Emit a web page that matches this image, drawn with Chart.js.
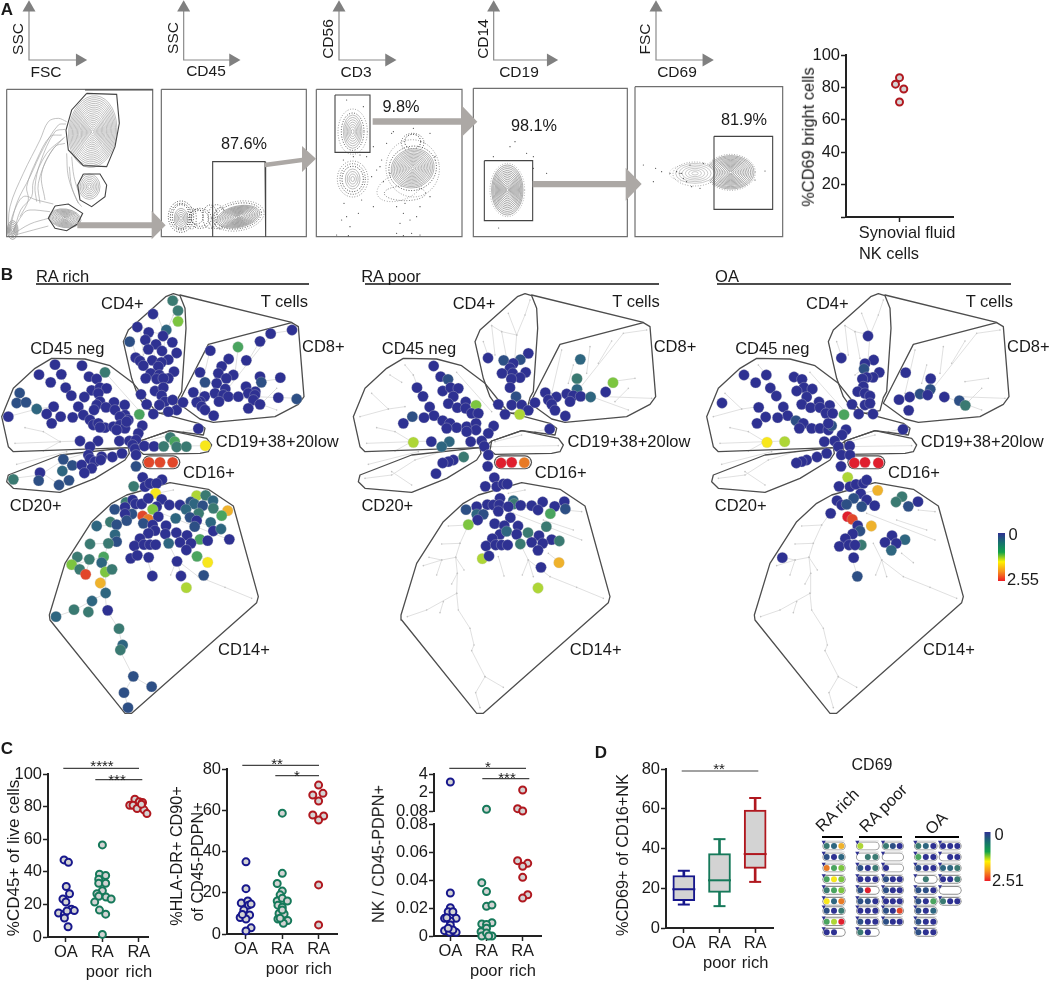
<!DOCTYPE html>
<html>
<head>
<meta charset="utf-8">
<title>NK cell figure</title>
<script src="https://cdn.jsdelivr.net/npm/chart.js@4/dist/chart.umd.js"></script>
<style>
  html, body { margin: 0; background: #fff; }
  #page { position: relative; width: 1050px; height: 981px; overflow: hidden; font-family: "Liberation Sans", Arial, sans-serif; color: #1a1a1a; }
  #page canvas { position: absolute; }
  .t { position: absolute; white-space: nowrap; transform-origin: center; line-height: 1; }
</style>
</head>
<body>
<div id="page"></div>
<script>
// ---- plotted values ----
const groups = ['OA', ['RA', 'poor'], ['RA', 'rich']];

// A: [offset from category, value]
const cd69Bright = [[0, 86], [-0.075, 82], [0.08, 79], [0, 71]];

// C: [offset from category, value]
const cd45Oa = [[-.05, 47.3], [.07, 45.8], [.01, 31], [.1, 26.5], [-.08, 23.3], [0, 21.5], [.15, 17], [.23, 16.2], [-.2, 14.7], [-.04, 14], [.03, 16], [-.04, 11.6], [.06, 6.3]];
const cd45Poor = [[0, 56.5], [-.08, 38.5], [.09, 37.7], [-.1, 35.5], [-.1, 33], [.09, 33], [0, 28.4], [-.15, 26.5], [-.1, 25], [.1, 24.5], [.24, 23.3], [-.21, 21.4], [-.08, 16.5], [.09, 14], [0, 1.6]];
const cd45Rich = [[-.25, 80.8], [-.11, 84.5], [.01, 83], [.1, 82.5], [-.16, 80.8], [-.05, 78.8], [.14, 78], [.22, 75.7], [.07, 81.5]];

const hlaOa = [[0, 35], [0, 22], [-.13, 15], [.05, 16], [.07, 14], [.14, 14.5], [-.06, 11.6], [.1, 9.2], [-.16, 8], [0, 7.3], [.14, 3], [0, 1.5], [-.1, 9.5]];
const hlaPoor = [[0, 58.6], [0, 29.4], [-.14, 24.5], [0, 20.8], [-.06, 19], [-.14, 16], [0, 17.3], [.14, 16], [-.12, 14], [0, 13], [-.09, 10], [.05, 9.7], [-.12, 7.3], [.15, 6.5], [.03, 5.2], [-.06, 7.6], [0, 11.6]];
const hlaRich = [[0, 72.2], [-.16, 67.4], [.12, 68.2], [0, 64.5], [-.16, 57.7], [.14, 57.2], [0, 55.3], [0, 23.8], [0, 4.4]];

const nkUpperOa = [[0, 3.15]];
const nkUpperPoor = [[0, .26]];
const nkUpperRich = [[0, 2.3], [-.14, .33], [0, .08]];
const nkOa = [[0, .0307], [0, .0202], [-.06, .0174], [.07, .0174], [-.16, .0126], [.16, .0126], [0, .0107], [-.1, .0131], [0, .0079], [-.16, .0038], [-.02, .0026], [.16, .0026], [.07, .0043], [-.06, .0055]];
const nkPoor = [[-.13, .0381], [0, .0317], [0, .0212], [.15, .0221], [-.13, .0086], [.15, .0095], [0, .0083], [0, .0055], [-.15, .0031], [-.13, 0], [0, .0021], [.15, 0], [.06, 0]];
const nkRich = [[-.14, .0538], [.14, .0519], [0, .0498], [0, .0419], [.14, .0295], [0, .0271]];

// D: box plot per group
const boxLow = [11.8, 11, 23.2];
const boxQ1 = [13.8, 17.9, 30];
const boxMedian = [19.5, 24, 37.2];
const boxQ3 = [26.4, 37.4, 59.3];
const boxHigh = [28.8, 44.7, 65.4];

const tickA = [100, 80, 60, 40, 20, 0];
const tickC1 = [100, 80, 60, 40, 20, 0];
const tickC2 = [80, 60, 40, 20, 0];
const tickC3Upper = [4, 2, 0.08];
const tickC3Lower = [0.08, 0.06, 0.04, 0.02, 0];
const tickD = [80, 60, 40, 20, 0];

// B: colour steps of the expression scale, navy (0) to red (2.55)
const heat = ['#2e3192', '#2d4f85', '#2e6680', '#3a7a72', '#4aa45f', '#7cc540', '#aed636', '#f8e71c', '#efb22c', '#e87a25', '#e2472a', '#e01f2e'];

// B: tree nodes [x, y, heat step], in 1/3 px units of each panel
const richUpper = [
  [518,107,3],[534,137,3],[534,169,5],[459,147,0],[412,186,0],[499,195,2],[446,202,0],[489,213,0],[389,230,1],[436,225,0],[517,232,0],[468,238,0],[486,258,0],[530,264,0],[407,278,0],[445,253,0],[457,286,0],[505,284,0],[420,288,0],[430,302,0],[484,292,0],[475,305,0],[522,320,0],[452,325,0],[437,340,0],[505,340,0],[478,330,0],[470,342,0],[490,340,0],[465,378,0],[490,368,0],[423,388,0],[485,392,0],[495,410,0],[440,418,0],[478,420,0],[518,405,0],[530,435,0],[505,440,0],[460,447,0],[549,412,0],
  [876,195,0],[812,206,0],[780,229,0],[714,246,4],[631,257,0],[686,282,0],[739,286,0],[665,304,0],[600,322,0],[655,325,0],[700,330,0],[679,340,0],[780,335,0],[841,338,0],[784,352,1],[615,352,1],[650,355,0],[738,365,0],[676,372,0],[766,380,0],[580,382,0],[614,394,0],[645,385,0],[670,390,0],[685,395,0],[715,395,0],[745,385,0],[765,390,0],[835,398,0],[890,402,1],[657,410,0],[600,410,0],[590,412,0],[605,425,0],[615,435,0],[760,405,0],[780,418,0],[745,430,0],[641,452,0],
  [315,322,3],[165,299,0],[246,302,0],[117,329,0],[184,328,0],[267,335,0],[290,342,0],[152,352,0],[197,368,0],[275,376,0],[300,368,0],[320,370,0],[295,385,0],[59,384,1],[214,392,0],[253,396,0],[50,414,1],[78,412,1],[161,425,0],[110,432,2],[235,425,0],[300,410,0],[290,420,0],[342,412,0],[318,427,0],[374,420,0],[282,435,0],[345,435,0],[140,447,0],[182,455,0],[218,457,0],[25,455,0],[418,448,4],[250,450,0],[270,465,0],[375,450,0],[360,455,0],[385,465,0],[280,480,0],[295,475,0],[155,475,0],[315,488,0],[340,485,0],[360,480,0],[375,490,0],[350,495,0],[300,487,0],[380,470,0],
  [427,482,0],[415,505,0],[595,491,0],[240,528,0],[294,528,0],[358,528,0],[388,528,0],[408,525,0],[398,540,0],[405,552,0],[270,545,0],[433,543,0],[462,544,0],[511,517,3],[524,530,4],[491,544,3],[530,546,3],[559,545,3],[616,542,7],
  [265,570,0],[337,576,0],[366,565,0],[408,570,0],[305,575,0],[270,582,0],[285,590,0],[302,585,0],[190,583,1],[217,601,1],[245,600,0],[275,610,0],[253,624,0],[187,618,2],[120,623,0],[116,647,1],[40,643,3],[207,646,1],[177,660,1],
  [408,604,1],[447,592,10],[480,592,10],[518,592,10],[428,637,0],[486,644,0],[401,664,3],[435,665,0],[450,655,0],[470,655,0]
];
const richLower = [
  [467,40,7],[590,47,6],[617,46,3],[639,62,2],[378,67,3],[398,60,0],[407,72,0],[425,72,0],[445,55,0],[485,58,0],[470,80,0],[508,75,0],[540,75,0],[572,66,1],[583,72,2],[608,77,1],[344,88,1],[375,82,0],[458,88,5],[558,88,2],[640,85,3],[683,92,8],[396,102,1],[375,102,0],[596,100,3],[665,107,4],[428,108,10],[445,118,9],[475,110,0],[570,112,1],[380,122,1],[527,115,2],[430,130,1],[590,122,0],[331,126,3],[350,134,1],[290,138,2],[632,127,2],[458,135,0],[584,140,1],[498,137,0],[640,153,0],[465,152,0],[445,160,0],[529,158,0],[663,147,2],[345,164,2],[496,162,0],[561,166,0],[420,176,0],[350,185,1],[600,178,4],[623,182,0],[688,178,0],[540,187,0],[573,190,0],[270,192,3],[325,190,3],[403,198,0],[432,194,0],[450,194,0],[467,194,0],[506,190,2],[559,210,0],[591,229,4],[623,247,7],[232,231,3],[311,231,4],[268,238,3],[305,248,2],[392,235,0],[412,226,0],[446,232,0],[531,244,0],[215,254,5],[239,268,3],[316,276,5],[336,268,3],[257,283,10],[457,288,0],[543,288,0],[611,286,1],[559,323,6],[301,309,8],[317,339,2],[276,363,2],[323,391,0],[222,389,3],[265,396,3],[168,410,2],[357,446,3],[368,495,2],[361,510,3],[400,589,1],[455,620,1],[372,638,1],[384,683,1]
];
const poorUpper = [
  [414,279,0],[461,286,1],[535,265,0],[511,284,1],[490,295,0],[480,310,0],[527,322,0],[456,325,0],[488,325,0],[510,338,0],[484,342,0],[480,368,0],[498,395,1],[445,418,0],[485,420,0],[515,420,0],[535,436,0],[465,448,0],[509,448,6],[555,413,0],
  [691,283,2],[681,341,3],[789,353,5],[681,373,2],[767,381,0],[586,383,0],[619,396,0],[650,387,0],[670,392,0],[692,394,0],[722,396,2],[660,410,0],[595,405,0],[605,418,0],[615,436,0],[646,453,0],
  [251,303,0],[272,335,0],[294,343,1],[201,368,0],[278,378,0],[302,368,0],[325,370,0],[219,394,0],[310,395,0],[295,416,0],[347,411,0],[378,421,5],[239,426,0],[322,428,0],[347,430,0],[365,445,0],[385,445,0],[252,452,0],[187,455,1],[222,458,0],[160,475,0],[278,467,0],[300,475,0],[320,488,0],[350,485,0],[378,475,0],[290,490,0],[378,495,0],[350,500,0],
  [431,483,0],[599,492,0],[415,505,0],[395,528,0],[362,530,0],[298,530,2],[244,530,0],[190,532,6],[275,545,2],[403,544,0],[415,570,0],[341,576,3],[310,585,0],[295,590,0],[278,594,0],[258,626,0],[413,604,0],[453,594,11],[485,592,11],[523,593,9],[433,638,0],[406,664,0],[440,665,0],[460,657,0],[472,657,0]
];
const poorLower = [
  [490,62,2],[492,72,3],[450,55,0],[643,65,0],[578,66,0],[412,74,0],[430,75,0],[448,75,0],[475,80,0],[512,76,0],[545,77,0],[614,79,0],[380,80,0],[348,89,1],[646,87,1],[445,94,0],[564,90,0],[601,101,4],[380,103,2],[400,103,1],[481,113,0],[383,120,0],[355,134,5],[434,131,0],[463,137,0],[504,138,0],[589,140,3],[450,163,0],[470,154,2],[534,158,3],[500,163,0],[567,167,0],[427,176,0],[605,179,0],[628,183,3],[545,187,0],[578,190,0],[408,198,0],[437,195,0],[455,195,0],[473,195,0],[511,192,3],[564,211,0],[627,248,8],[397,236,6],[417,228,0],[573,262,0],[564,324,6]
];
const oaUpper = [
  [504,213,0],[424,279,0],[521,285,0],[495,296,0],[492,312,1],[538,322,0],[519,337,0],[500,337,0],[487,342,0],[490,365,0],[473,380,0],[495,385,0],[510,393,0],[456,418,0],[495,420,0],[510,415,0],[476,447,0],[519,447,0],
  [617,323,0],[692,341,0],[691,373,1],[660,387,1],[683,390,0],[629,396,0],[733,396,0],[597,404,0],[778,407,1],[796,421,3],[626,436,0],
  [132,330,0],[199,330,0],[282,336,0],[306,343,0],[167,353,0],[211,369,0],[312,368,0],[337,372,0],[290,378,0],[320,396,0],[229,393,0],[66,414,0],[357,411,0],[305,418,0],[389,421,0],[176,427,0],[250,426,0],[332,428,0],[360,428,0],[378,445,0],[398,445,0],[432,449,4],[263,452,0],[197,456,0],[233,458,0],[171,475,0],[288,467,1],[310,475,0],[335,490,0],[360,490,0],[385,495,0],[395,482,1],[298,490,0],[385,475,0],
  [438,494,0],[609,493,0],[426,510,0],[404,528,0],[373,530,0],[254,530,6],[201,532,7],[415,545,0],[449,543,0],[424,570,0],[450,570,0],[380,565,0],[351,576,0],[320,585,0],[305,590,0],[289,594,0],[423,604,0],[463,594,11],[495,592,11],[535,594,11],[443,637,6],[417,664,0],[450,665,0],[468,658,0],[490,655,0],[500,645,0]
];
const oaLower = [
  [533,31,8],[482,41,0],[461,55,1],[500,60,0],[606,50,3],[588,66,3],[654,65,0],[411,62,0],[425,75,0],[440,73,1],[524,77,0],[485,80,1],[625,79,1],[392,100,0],[443,110,11],[457,118,10],[473,137,0],[514,138,8],[480,153,1],[458,162,0],[576,167,0],[436,176,0],[615,179,2],[555,187,0],[589,190,0],[418,199,0],[484,195,3],[447,195,0],[465,195,0],[574,211,2],[461,233,0],[247,233,0],[472,289,1]
];

// D: CD69 tiles, three heat steps per tile, -1 where the node is empty
const tilesRich = [[3,2,8],[1,0,2],[9,4,5],[4,7,5],[3,4,5],[7,2,9],[1,0,3],[4,6,11],[0,0,-1]];
const tilesPoorA = [[6,-1,-1],[-1,3,3],[1,0,3],[0,0,0],[1,11,-1],[1,1,0],[0,0,0],[1,0,0],[3,0,-1]];
const tilesPoorB = [[3,1,0],[-1,-1,-1],[0,-1,-1],[1,0,0],[1,0,0],[0,0,0],[1,0,10],[1,0,0]];
const tilesOaA = [[3,2,0],[4,0,0],[1,0,0],[-1,3,-1],[1,1,0],[1,0,4],[1,0,2],[1,0,0],[1,0,0]];
const tilesOaB = [[0,0,0],[-1,0,0],[2,2,3],[0,0,3],[-1,-1,-1],[3,0,0]];

// ---- drawing geometry ----
const treeUpper = [
  [[480,380],[488,300],[495,210],[470,145]], [[495,210],[520,150],[535,105]], [[495,210],[450,200],[420,182]], [[450,200],[465,280]], [[420,182],[430,270]], [[395,230],[415,290]], [[488,300],[450,330]],
  [[672,385],[815,205],[885,195]], [[740,295],[780,228]], [[630,255],[600,385]], [[715,245],[705,325]], [[665,300],[650,355]], [[780,350],[850,340]], [[720,395],[830,435]], [[760,395],[900,400]], [[790,410],[830,370]],
  [[45,535],[180,530],[240,528]], [[75,488],[130,500],[180,530]], [[25,455],[110,432],[160,425]], [[60,385],[110,432]], [[185,330],[200,370]], [[160,300],[185,330]], [[115,330],[150,352]], [[315,322],[420,440]], [[180,530],[130,558]],
  [[40,640],[120,630],[190,585],[270,560]], [[50,598],[200,560]], [[120,620],[180,660]],
  [[420,545],[620,542]], [[430,530],[510,510]], [[550,500],[595,491]]
];
const treeLower = [
  [[315,340],[320,390],[355,445],[367,495],[360,512],[400,590],[455,622]], [[400,590],[372,638],[385,683]], [[315,340],[225,390],[167,410]], [[275,365],[265,398]], [[315,340],[317,280],[300,312]], [[317,280],[312,232],[270,240],[215,257]], [[270,240],[255,285]], [[270,240],[232,232]], [[312,232],[337,270]], [[312,232],[325,190],[270,192]], [[325,190],[350,135],[290,138]], [[350,135],[375,100]],
  [[530,240],[545,290]], [[530,240],[512,285]], [[530,240],[595,290],[675,322],[755,355]], [[505,190],[530,240]], [[440,230],[457,288]], [[485,100],[690,180]], [[575,120],[665,150]], [[640,90],[690,95]], [[470,40],[520,30]], [[590,220],[625,248]]
];
const hullsUpper = [
  [[370,230],[385,195],[497,95],[520,86],[540,92],[555,130],[558,190],[545,380],[535,398],[525,437],[480,445],[440,430],[415,395],[395,340],[370,230]],
  [[540,90],[875,172]],
  [[625,238],[875,173],[895,185],[912,395],[895,418],[825,455],[640,472],[600,462],[535,415],[560,365],[625,238]],
  [[5,455],[40,370],[105,310],[155,280],[255,282],[330,302],[400,355],[440,405],[470,442],[595,475],[615,490],[610,510],[510,497],[420,528],[400,545],[385,548],[40,560],[25,545],[5,455]],
  [[420,528],[510,497],[620,520],[635,540],[625,560],[600,565],[430,568],[415,555],[420,528]],
  [[385,548],[180,570],[25,630],[20,650],[40,670],[180,682],[285,640],[375,585],[388,565],[385,548]]
];
const hullsLower = [
  [[335,70],[380,45],[510,8],[625,28],[700,78],[775,350],[770,368],[395,700],[375,700],[150,420],[148,405],[195,250],[275,125],[335,70]]
];
const cd16Capsule = [[448,592],[520,592]];

const flowFrames = [
  [[20,268],[458,268],[458,710],[20,710],[20,268]], [[484,268],[919,268],[919,710],[484,710],[484,268]],
  [[949,268],[1386,268],[1386,710],[949,710],[949,268]], [[1420,265],[1882,265],[1882,710],[1420,710],[1420,265]],
  [[1905,260],[2348,260],[2348,710],[1905,710],[1905,260]]
];
const flowGates = [
  [[260,280],[350,283],[358,370],[345,440],[320,500],[250,497],[205,450],[198,390],[215,330],[260,280]],
  [[250,522],[300,522],[320,555],[315,590],[275,620],[240,600],[233,555],[250,522]],
  [[165,618],[205,612],[248,640],[232,672],[200,692],[165,685],[145,655],[165,618]],
  [[638,710],[638,485],[795,485],[797,710]],
  [[1005,285],[1110,285],[1110,457],[1005,457],[1005,285]],
  [[1453,482],[1598,482],[1598,662],[1453,662],[1453,482]],
  [[2142,409],[2318,409],[2318,628],[2142,628],[2142,409]],
  [[255,270],[458,270]]
];
const flowArrows = [
  [[232,667],[455,667],[455,632],[497,676],[455,718],[455,685],[232,685],[232,667]],
  [[793,488],[906,473],[906,438],[948,476],[906,516],[906,487],[795,502],[793,488]],
  [[1118,355],[1384,355],[1384,315],[1432,365],[1384,412],[1384,374],[1118,374],[1118,355]],
  [[1598,543],[1877,543],[1877,503],[1925,552],[1877,602],[1877,562],[1598,562],[1598,543]]
];
const looseContours = [
  [[25,700],[30,620],[70,520],[120,420],[145,365],[175,355],[200,365]],
  [[200,460],[205,530],[230,600],[245,620]],
  [[25,700],[40,640],[70,590],[110,600],[160,612]],
  [[110,605],[105,560],[120,490],[165,395],[195,388]],
  [[60,650],[85,600],[80,560],[110,480],[150,410],[185,405]],
  [[45,705],[100,690],[145,678]], [[35,705],[90,672],[145,655]], [[32,705],[70,640],[90,630],[150,635]],
  [[135,600],[125,520],[165,440],[195,430]], [[215,470],[222,530],[240,590]],
  [[28,700],[50,610],[90,530],[130,445],[175,375],[198,372]], [[40,702],[62,630],[95,590],[100,545],[140,460],[190,415]],
  [[120,610],[115,550],[150,460],[195,410]], [[208,500],[215,560],[235,610]]
];
// contour stacks: cx, cy, rx, ry, tilt in degrees, rings, stroke
const contourStacks = [
  [278,395,72,108,6,19,'#8c8c8c'], [268,560,32,38,0,7,'#888'], [195,655,48,28,8,11,'#777'], [38,690,16,28,0,5,'#666'],
  [543,655,20,30,0,5,'#777'], [715,650,65,32,-12,13,'#666'],
  [1058,395,28,50,0,7,'#888'], [1058,537,22,30,0,4,'#888'], [1238,505,65,58,-20,14,'#777'],
  [1522,570,47,75,0,14,'#666'],
  [2192,517,70,50,0,14,'#666'], [2085,520,58,30,0,6,'#a0a0a0']
];
// stippled halos of single events: cx, cy, rx, ry, tilt, strength
const eventHalos = [
  [543,650,26,36,0,1],[543,650,32,40,0,1],[543,650,38,47,0,.8],[600,655,34,30,0,.8],[600,655,26,24,0,.8],[630,650,22,35,0,.8],[590,650,20,22,0,.8],[575,655,14,32,0,.7],[715,648,70,38,-10,.8],[715,648,78,44,-10,.5],[660,655,18,32,0,.8],[650,650,26,36,0,.7],
  [1058,395,34,56,0,.8],[1058,395,44,68,0,.45],[1058,537,32,38,0,.9],[1058,537,38,46,0,.7],[1058,537,46,54,0,.5],[1238,505,72,66,-20,.8],[1238,505,80,86,-10,.45],[1238,425,24,22,0,1],[1238,428,34,28,0,.7],[1215,580,62,22,0,.6],[1200,560,72,40,-20,.4],
  [1522,570,52,80,0,.35],[2192,517,74,54,0,.4],[2085,522,66,36,0,.4],[2060,520,52,24,0,.25]
];
const flowEvents = [
  [1040,650],[1075,640],[1032,610],[1085,600],[1025,660],[1050,680],[1120,620],[1140,500],[1160,430],[1175,400],[1190,620],[1210,640],[1230,660],[1250,650],[1190,700],[1235,700],[1260,705],[1150,545],[1130,510],[1115,530],[1290,400],[1305,470],[1180,395],[1240,385],[1215,610],[1260,620],[1040,300],[1090,320],[1120,440],[1100,470],[1010,705],[1045,707],[1210,707],[1145,480],[1170,520],[1290,590],[1200,670],[1080,465],[1060,470],[1030,480],
  [1530,440],[1545,425],[1480,470],[1580,460],[1496,684],[1600,505],[1640,520],[1600,470],
  [1930,495],[1967,505],[1985,515],[2010,520],[2030,515],[1960,545],[2040,520],[2060,545],[2075,560],[2050,535],[2070,495],[2110,490],[2295,513],[2265,540],[2100,565],[2045,520]
];
const axisArrows = [87, 551, 1017, 1481, 1968];
const axisArrowTips = [262, 722, 1190, 1675, 2142];

// mini tiles in D: column x of the first and last node, row y, all in 1/3 px units
const tileRows = [333, 366, 399, 433, 466, 499, 527, 560, 592];
const tileColumns = [[380, 424, tilesRich], [481, 526, tilesPoorA], [558, 599, tilesPoorB], [655, 700, tilesOaA], [729, 772, tilesOaB]];

// ---- texts: text, x, y, font size, rotation, bold ----
const pageTexts = [
  ['A',7,9,17,0,1],['B',7,274,17,0,1],['C',7,748,17,0,1],['D',601,752,17,0,1],
  ['SSC',18,39,15.5,-90],['FSC',46,72,15.5],['SSC',173,38,15.5,-90],['CD45',206,71,15.5],['CD56',328,39,15.5,-90],['CD3',356,72,15.5],['CD14',483,39,15.5,-90],['CD19',519,72,15.5],['FSC',645,39,15.5,-90],['CD69',677,72,15.5],
  ['87.6%',244,143,16.3],['9.8%',401,106,16.3],['98.1%',534,125,16.3],['81.9%',744,119,16.3],
  ['%CD69 bright cells',808,137,16.4,-90],['Synovial fluid',907,232,16.4],['NK cells',889,253,16.4],
  ['RA rich',62.5,276,16.5],['RA poor',391,276,16.5],['OA',727,276,16.5],
  ['0',1013,534,16.5],['2.55',1023,579,16.5],
  ['%CD45+ of live cells',13,858,17,-90],['%HLA-DR+ CD90+',176,856,16.2,-90],['of CD45-PDPN+',197,862,16.2,-90],['NK / CD45-PDPN+',378,854,16.3,-90],['%CD69+ of CD16+NK',622,855,16.3,-90],
  ['****',102,765,15],['***',117,779,15],['**',277,763,15],['*',297,775,15],['*',488,766,15],['***',507,777,15],['**',719,768,15],
  ['CD69',872,765,16],['RA rich',837,810,16.5,-45],['RA poor',883,808,16.5,-45],['OA',936,823,16.5,-45],['0',999,834,16.5],['2.51',1008,880,16.5]
];
const panelTexts = [
  ['CD4+',367,114],['T cells',853,107],['CD45 neg',202,248],['CD8+',970,242],['CD19+38+20low',832,527],['CD16+',627,620],['CD20+',107,720],['CD14+',732,1153]
];

const page = document.getElementById('page');
const FONT = '"Liberation Sans", Arial, sans-serif';
const DARK = '#222';
const BLUE = '#17178c', GREEN = '#16795a', RED = '#b0181f', FILL = '#d3d3d3';
Chart.defaults.font.family = FONT;
Chart.defaults.color = '#1a1a1a';
Chart.defaults.animation = false;

function addText(t, x, y, size, rot, bold) {
  const s = document.createElement('span');
  s.className = 't';
  s.textContent = t;
  s.style.left = x + 'px';
  s.style.top = y + 'px';
  s.style.fontSize = size + 'px';
  if (bold) s.style.fontWeight = 'bold';
  s.style.transform = 'translate(-50%,-50%) rotate(' + (rot || 0) + 'deg)';
  page.appendChild(s);
}

function addCanvas(left, top, w, h) {
  const c = document.createElement('canvas');
  c.width = w; c.height = h;
  c.style.left = left + 'px';
  c.style.top = top + 'px';
  page.appendChild(c);
  return c;
}

const pts = arr => arr.map(p => ({ x: p[0], y: p[1] }));
const shift = (arr, dx, dy) => arr.map(p => [p[0] + dx, p[1] + dy].concat(p.slice(2)));

function line(points, color, width, extra) {
  return Object.assign({ type: 'scatter', data: pts(points), showLine: true, borderColor: color, borderWidth: width, pointRadius: 0, clip: false, tension: 0 }, extra || {});
}
function polygon(points, color) {
  return line(points, color, 0, { fill: 'shape', backgroundColor: color });
}

// later entries end up on top
function layered(list) {
  list.forEach((d, i) => { d.order = list.length - i; });
  return list;
}

const quiet = { legend: { display: false }, tooltip: { enabled: false } };

// chart with hidden axes, its data units map straight on to the canvas
function plainChart(left, top, w, h, xMax, yMax, datasets, plugins) {
  return new Chart(addCanvas(left, top, w, h), {
    type: 'scatter',
    data: { datasets: layered(datasets) },
    plugins: plugins || [],
    options: {
      responsive: false,
      layout: { padding: 0, autoPadding: false },
      plugins: quiet,
      scales: {
        x: { type: 'linear', display: false, min: 0, max: xMax },
        y: { type: 'linear', display: false, min: 0, max: yMax, reverse: true }
      }
    }
  });
}

function xyAxes(o) {
  const ml = 62, mt = 14, mr = 14, mb = o.noX ? 14 : 52;
  const yAxis = {
    type: 'linear', min: o.yMin, max: o.yMax,
    afterBuildTicks: s => { s.ticks = o.yTicks.map(v => ({ value: v })); },
    afterFit: s => { s.width = ml; },
    grid: { drawOnChartArea: false, tickLength: 5, tickColor: DARK, tickWidth: 1.5 },
    border: { color: DARK, width: 2 },
    ticks: { font: { size: 16.5 }, padding: 1, color: '#1a1a1a', autoSkip: false,
      callback: v => (o.hideZero && v === 0 ? '' : String(v)) }
  };
  return { ml, mt, mr, mb, yAxis };
}

function dotChart(o) {
  const a = xyAxes(o);
  const xAxis = {
    type: 'linear', min: o.xMin, max: o.xMax, display: !o.noX,
    afterBuildTicks: s => { s.ticks = o.cats.map((_, i) => ({ value: i })); },
    afterFit: s => { s.height = a.mb; },
    grid: { drawOnChartArea: false, tickLength: 5, tickColor: DARK, tickWidth: 1.5 },
    border: { color: DARK, width: 2, dash: o.dashX ? [1.5, 2] : undefined },
    ticks: { font: { size: 16.5 }, padding: 1, color: '#1a1a1a', maxRotation: 0, autoSkip: false,
      callback: v => o.cats[v] }
  };
  return new Chart(addCanvas(o.l - a.ml, o.t - a.mt, o.r - o.l + a.ml + a.mr, o.b - o.t + a.mt + a.mb), {
    type: 'scatter',
    data: { datasets: o.series.map(s => ({
      data: s[0].map(p => ({ x: p[0] + s[1], y: p[1] })),
      pointRadius: 3.5, pointBorderWidth: 2, pointBorderColor: s[2], pointBackgroundColor: FILL, clip: false
    })) },
    options: {
      responsive: false,
      layout: { padding: { top: a.mt, right: a.mr }, autoPadding: false },
      plugins: quiet,
      scales: { x: xAxis, y: a.yAxis }
    }
  });
}

// ---- background figure chart: rules, significance bars and colour bars ----
const figureCanvas = addCanvas(0, 0, 1050, 981);
const g2d = figureCanvas.getContext('2d');
function colourBar(y0, y1) {
  const g = g2d.createLinearGradient(0, y0, 0, y1);
  ['#2e3192', '#17706f', '#12a24a', '#fff200', '#f7941d', '#ed1c24'].forEach((c, i) => g.addColorStop(i / 5, c));
  return g;
}
const figureSets = [
  line([[36,284],[309,284]], '#111', 1.3), line([[365,284],[659,284]], '#111', 1.3), line([[717,284],[1011,284]], '#111', 1.3),
  line([[63.3,768.3],[139,768.3]], '#444', 1.2), line([[95.3,779.7],[142.3,779.7]], '#444', 1.2),
  line([[242.3,765.3],[319,765.3]], '#444', 1.2), line([[275.3,775.7],[319,775.7]], '#444', 1.2),
  line([[449.3,768.3],[526,768.3]], '#444', 1.2), line([[482.3,778.7],[529.3,778.7]], '#444', 1.2),
  line([[681.7,771],[758.3,771]], '#444', 1.2),
  line([[822,837],[843,837]], '#000', 2), line([[859,837],[902,837]], '#000', 2), line([[915,837],[959,837]], '#000', 2),
  line([[1001.5,533],[1001.5,581]], colourBar(533, 581), 7), line([[987.5,832],[987.5,881]], colourBar(832, 881), 6)
];
new Chart(figureCanvas, {
  type: 'scatter',
  data: { datasets: layered(figureSets) },
  options: {
    responsive: false, layout: { padding: 0, autoPadding: false }, plugins: quiet,
    scales: { x: { type: 'linear', display: false, min: 0, max: 1050 }, y: { type: 'linear', display: false, min: 0, max: 981, reverse: true } }
  }
});

// ---- A: gating strip ----
const ringsPlugin = {
  id: 'rings',
  beforeDatasetsDraw(chart) {
    const { ctx, scales: { x, y } } = chart;
    const k = x.getPixelForValue(1) - x.getPixelForValue(0);
    ctx.save();
    eventHalos.forEach(h => {
      ctx.beginPath();
      ctx.ellipse(x.getPixelForValue(h[0]), y.getPixelForValue(h[1]), h[2] * k, h[3] * k, h[4] * Math.PI / 180, 0, 7);
      ctx.setLineDash([.9, 1.7]);
      ctx.lineWidth = 1;
      ctx.strokeStyle = 'rgba(20,20,20,' + h[5] + ')';
      ctx.stroke();
    });
    ctx.setLineDash([]);
    contourStacks.forEach(c => {
      ctx.fillStyle = '#fff';
      for (let i = c[5]; i > 0; i--) {
        const f = i / c[5];
        ctx.beginPath();
        ctx.ellipse(x.getPixelForValue(c[0]), y.getPixelForValue(c[1]), c[2] * f * k, c[3] * f * k, c[4] * Math.PI / 180, 0, 7);
        if (i === c[5]) ctx.fill();
        ctx.lineWidth = .55;
        ctx.strokeStyle = c[6];
        ctx.stroke();
      }
    });
    ctx.restore();
  }
};
const flowSets = [];
axisArrows.forEach((x, i) => {
  flowSets.push(line([[x, 30], [x, 180], [axisArrowTips[i] - 20, 180]], '#8c8c8c', 1.2));
  flowSets.push({ type: 'scatter', data: pts([[x, 23]]), pointStyle: 'triangle', pointRadius: 7.5, pointBackgroundColor: '#808080', pointBorderWidth: 0, clip: false });
  flowSets.push({ type: 'scatter', data: pts([[axisArrowTips[i] - 23, 180]]), pointStyle: 'triangle', pointRotation: 90, pointRadius: 7.5, pointBackgroundColor: '#808080', pointBorderWidth: 0, clip: false });
});
flowFrames.forEach(f => flowSets.push(line(f, '#6f6f6f', 1.2)));
looseContours.forEach(c => flowSets.push(line(c, '#a0a0a0', .65, { tension: .35 })));
flowSets.push({ type: 'scatter', data: pts(flowEvents), pointRadius: .55, pointBackgroundColor: '#333', pointBorderWidth: 0 });
flowGates.forEach(g => flowSets.push(line(g, '#444', 1.1)));
flowArrows.forEach(a => flowSets.push(polygon(a, '#aca8a5')));
plainChart(0, 0, 1050, 270, 3150, 810, flowSets, [ringsPlugin]);

// A: dot plot
dotChart({ l: 846, r: 953, t: 55, b: 217, xMin: -1, xMax: 1, yMin: 0, yMax: 100, yTicks: tickA, hideZero: true,
  cats: [''], dashX: true, series: [[cd69Bright, 0, RED]] });

// ---- B: three trees ----
function treePanel(left, upper, lower, dx) {
  const sets = [];
  treeUpper.concat(treeLower.map(b => shift(b, 0, 645))).forEach(b => {
    sets.push(line(shift(b, dx, 0), '#dcdcdc', .9, { pointRadius: .8, pointBackgroundColor: '#c4c4c4', pointBorderWidth: 0 }));
  });
  hullsUpper.concat(hullsLower.map(h => shift(h, 0, 645))).forEach(h => {
    sets.push(line(shift(h, dx, 0), '#4d4d4d', 1.3, { borderJoinStyle: 'round', borderCapStyle: 'round' }));
  });
  sets.push(line(shift(cd16Capsule, dx, 0), '#4d4d4d', 14, { borderCapStyle: 'round' }));
  sets.push(line(shift(cd16Capsule, dx, 0), '#fff', 11.6, { borderCapStyle: 'round' }));
  const nodes = upper.concat(shift(lower, 0, 645));
  sets.push({ type: 'scatter', data: pts(nodes), pointRadius: 5.4, clip: false,
    pointBackgroundColor: nodes.map(n => heat[n[2]]), pointBorderColor: 'rgba(205,205,205,.6)', pointBorderWidth: .5 });
  plainChart(left, 265, 350, 480, 1050, 1440, sets);
  panelTexts.forEach(t => addText(t[0], left + (t[1] + dx) / 3, 265 + t[2] / 3, 16.5));
}
treePanel(0, richUpper, richLower, 0);
treePanel(350, poorUpper, poorLower, 5);
treePanel(700, oaUpper, oaLower, 15);

// ---- C: dot plots ----
dotChart({ l: 47.7, r: 148.3, t: 774.3, b: 937.7, xMin: -.49, xMax: 2.25, yMin: 0, yMax: 100, yTicks: tickC1, cats: groups,
  series: [[cd45Oa, 0, BLUE], [cd45Poor, 1, GREEN], [cd45Rich, 2, RED]] });
dotChart({ l: 226.7, r: 336.7, t: 769, b: 934, xMin: -.523, xMax: 2.507, yMin: 0, yMax: 80, yTicks: tickC2, cats: groups,
  series: [[hlaOa, 0, BLUE], [hlaPoor, 1, GREEN], [hlaRich, 2, RED]] });
dotChart({ l: 434.3, r: 541.7, t: 774.3, b: 812, xMin: -.452, xMax: 2.507, yMin: .08, yMax: 4, yTicks: tickC3Upper, cats: groups, noX: true,
  series: [[nkUpperOa, 0, BLUE], [nkUpperPoor, 1, GREEN], [nkUpperRich, 2, RED]] });
dotChart({ l: 434.3, r: 541.7, t: 824, b: 936, xMin: -.452, xMax: 2.507, yMin: 0, yMax: .08, yTicks: tickC3Lower, cats: groups,
  series: [[nkOa, 0, BLUE], [nkPoor, 1, GREEN], [nkRich, 2, RED]] });

// ---- D: box plot ----
(function () {
  const groupColours = [BLUE, GREEN, RED];
  const ml = 62, mt = 14, mr = 14, mb = 52;
  const l = 665.7, r = 772.7, t = 769, b = 928.7;
  const capSet = (vals, radius) => ({ type: 'line', data: vals, showLine: false, pointStyle: 'line', pointRadius: radius,
    pointBorderWidth: 2, pointBorderColor: groupColours, clip: false });
  new Chart(addCanvas(l - ml, t - mt, r - l + ml + mr, b - t + mt + mb), {
    type: 'bar',
    data: {
      labels: groups,
      datasets: layered([
        { data: boxLow.map((v, i) => [v, boxHigh[i]]), backgroundColor: groupColours, barThickness: 2, grouped: false },
        { data: boxQ1.map((v, i) => [v, boxQ3[i]]), backgroundColor: FILL, borderColor: groupColours, borderWidth: 2, borderSkipped: false, barThickness: 22, grouped: false },
        capSet(boxMedian, 11.5), capSet(boxLow, 6), capSet(boxHigh, 6)
      ])
    },
    options: {
      responsive: false,
      layout: { padding: { top: mt, right: mr }, autoPadding: false },
      plugins: quiet,
      scales: {
        x: { type: 'category', offset: true, afterFit: s => { s.height = mb; },
          grid: { offset: false, drawOnChartArea: false, tickLength: 5, tickColor: DARK, tickWidth: 1.5 },
          border: { color: DARK, width: 2 },
          ticks: { font: { size: 16.5 }, padding: 1, color: '#1a1a1a', maxRotation: 0, autoSkip: false } },
        y: { type: 'linear', min: 0, max: 80, afterFit: s => { s.width = ml; },
          afterBuildTicks: s => { s.ticks = tickD.map(v => ({ value: v })); },
          grid: { drawOnChartArea: false, tickLength: 5, tickColor: DARK, tickWidth: 1.5 },
          border: { color: DARK, width: 2 },
          ticks: { font: { size: 16.5 }, padding: 1, color: '#1a1a1a' } }
      }
    }
  });
})();

// D: CD69 tiles
(function () {
  const sets = [];
  tileColumns.forEach(col => {
    const [x0, x1, rows] = col;
    const step = (x1 - x0) / 2;
    rows.forEach((row, r) => {
      const y = tileRows[r];
      sets.push(line([[x0 - 8, y - 15], [x1 + 10, y - 15]], '#cfcfcf', .8));
      sets.push(line([[x0, y], [x1, y]], '#8f8f8f', 8.6, { borderCapStyle: 'round' }));
      sets.push(line([[x0, y], [x1, y]], '#fff', 6.8, { borderCapStyle: 'round' }));
      sets.push({ type: 'scatter', data: pts([[x0 - 9, y - 12]]), pointStyle: 'triangle', pointRotation: 180, pointRadius: 2.4,
        pointBackgroundColor: heat[0], pointBorderWidth: 0, clip: false });
      const cells = row.map((c, i) => [x0 + i * step, y, c]).filter(c => c[2] >= 0);
      sets.push({ type: 'scatter', data: pts(cells), pointRadius: 3, pointBorderWidth: 0,
        pointBackgroundColor: cells.map(c => heat[c[2]]), clip: false });
    });
  });
  plainChart(700, 735, 350, 246, 1050, 738, sets);
})();

pageTexts.forEach(t => addText(t[0], t[1], t[2], t[3], t[4], t[5]));
</script>
</body>
</html>
